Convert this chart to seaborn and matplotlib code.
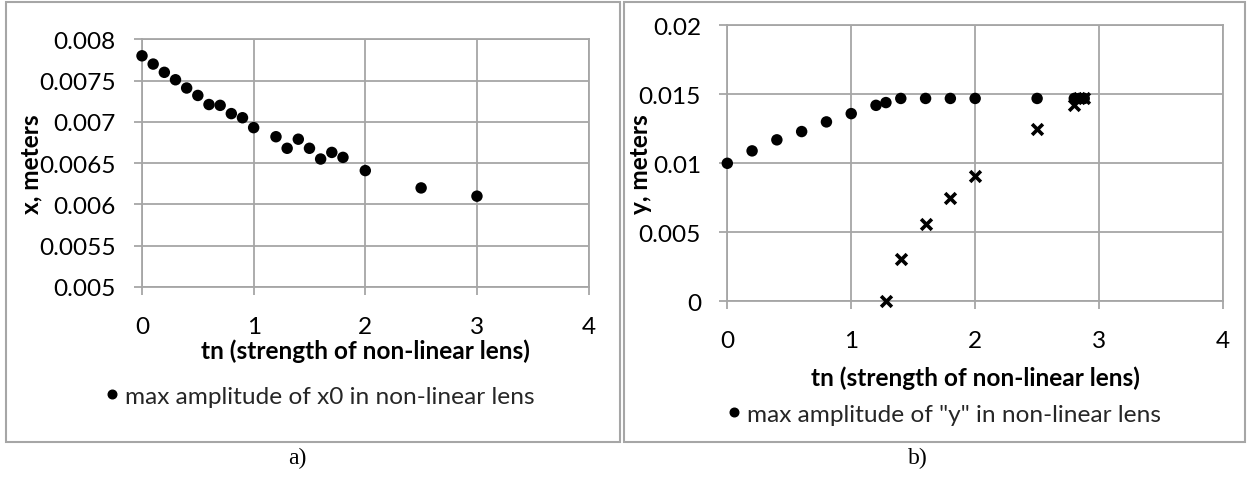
import numpy as np
import pandas as pd
import matplotlib
matplotlib.use("Agg")
import matplotlib.pyplot as plt
import seaborn as sns
from matplotlib.lines import Line2D
from matplotlib.patches import Rectangle

# ---------------- data ----------------
# panel a
tn_a = [0, 0.1, 0.2, 0.3, 0.4, 0.5, 0.6, 0.7, 0.8, 0.9, 1.0,
        1.2, 1.3, 1.4, 1.5, 1.6, 1.7, 1.8, 2.0, 2.5, 3.0]
x0_amp = [0.00780, 0.00770, 0.00760, 0.00751, 0.00741, 0.00732, 0.00721,
          0.00720, 0.00710, 0.00705, 0.00693, 0.00682, 0.00668, 0.00679,
          0.00668, 0.00655, 0.00663, 0.00657, 0.00641, 0.00620, 0.00610]
# panel b
tn_b = [0, 0.2, 0.4, 0.6, 0.8, 1.0, 1.2, 1.28, 1.4, 1.6, 1.8, 2.0, 2.5,
        2.8, 2.84, 2.88]
y_amp = [0.0100, 0.0109, 0.0117, 0.0123, 0.0130, 0.0136, 0.0142, 0.0144,
         0.0147, 0.0147, 0.0147, 0.0147, 0.0147, 0.0147, 0.0147, 0.0147]
tn_c = [1.28, 1.4, 1.6, 1.8, 2.0, 2.5, 2.8, 2.84, 2.88]
y_cross = [0.0, 0.0031, 0.0056, 0.0075, 0.0091, 0.0125, 0.0142, 0.0147, 0.0147]

xticks = [0, 1, 2, 3, 4]
xtick_labels = ["0", "1", "2", "3", "4"]
yticks_a = [0.005, 0.0055, 0.006, 0.0065, 0.007, 0.0075, 0.008]
ytick_labels_a = ["0.005", "0.0055", "0.006", "0.0065", "0.007", "0.0075", "0.008"]
yticks_b = [0, 0.005, 0.01, 0.015, 0.02]
ytick_labels_b = ["0", "0.005", "0.01", "0.015", "0.02"]

xlabel_txt = "tn (strength of non-linear lens)"
ylabel_a = "x, meters"
ylabel_b = "y, meters"
legend_a = "max amplitude of x0 in non-linear lens"
legend_b = 'max amplitude of "y" in non-linear lens'

df_a = pd.DataFrame({"tn": tn_a, "amp": x0_amp})
df_b = pd.DataFrame({"tn": tn_b, "amp": y_amp})
df_c = pd.DataFrame({"tn": tn_c, "amp": y_cross})

# ---------------- style ----------------
sns.set_theme(style="white")
plt.rcParams["font.family"] = ["Lato", "DejaVu Sans"]
FS = 17.6
GRID = "#a6a6a6"

W, H = 1253, 481
fig = plt.figure(figsize=(W / 100, H / 100), dpi=100)
fig.patch.set_facecolor("white")


def px_axes(x0, y0, x1, y1):
    return fig.add_axes([x0 / W, 1 - y1 / H, (x1 - x0) / W, (y1 - y0) / H])


ax_a = px_axes(142, 40.3, 588.6, 288)
ax_b = px_axes(727.3, 26.3, 1223, 302.3)

# panel boxes
for (bx0, by0, bx1, by1) in [(6, 3, 620, 443), (624, 3, 1245, 443)]:
    fig.patches.append(Rectangle((bx0 / W, 1 - by1 / H), (bx1 - bx0) / W,
                                 (by1 - by0) / H, transform=fig.transFigure,
                                 fill=False, edgecolor=GRID, linewidth=1.5))

sns.scatterplot(data=df_a, x="tn", y="amp", ax=ax_a, color="black", s=68,
                marker="o", edgecolor="none", legend=False, clip_on=False, zorder=3)
sns.scatterplot(data=df_b, x="tn", y="amp", ax=ax_b, color="black", s=68,
                marker="o", edgecolor="none", legend=False, clip_on=False, zorder=3)
sns.scatterplot(data=df_c, x="tn", y="amp", ax=ax_b, color="black", s=60,
                marker="x", linewidth=2.6, legend=False, clip_on=False, zorder=3)


def style(ax, yticks, ylabels, ylim, ylab, ylab_x, xlab_y):
    ax.set_xlim(0, 4)
    ax.set_ylim(*ylim)
    ax.set_xticks(xticks)
    ax.set_xticklabels(xtick_labels)
    ax.set_yticks(yticks)
    ax.set_yticklabels(ylabels)
    ax.grid(True, color=GRID, linewidth=1.3)
    ax.set_axisbelow(True)
    for sp in ax.spines.values():
        sp.set_visible(True)
        sp.set_color(GRID)
        sp.set_linewidth(1.3)
    ax.tick_params(axis="x", length=6, width=1.3, color=GRID, pad=15,
                   labelsize=FS, labelcolor="black", bottom=True)
    ax.tick_params(axis="y", length=6, width=1.3, color=GRID, pad=13,
                   labelsize=FS, labelcolor="black", left=True)
    ax.set_xlabel(xlabel_txt, fontsize=FS, fontweight="bold", color="black")
    ax.set_ylabel(ylab, fontsize=FS, fontweight="bold", color="black")
    ax.xaxis.set_label_coords(0.5, xlab_y)
    ax.xaxis.label.set_va("center")
    ax.yaxis.set_label_coords(ylab_x, 0.5)
    ax.yaxis.label.set_va("center")


style(ax_a, yticks_a, ytick_labels_a, (0.005, 0.008), ylabel_a,
      (30.6 - 142) / 446.6, (288 - 351.7) / 247.7)
style(ax_b, yticks_b, ytick_labels_b, (0, 0.02), ylabel_b,
      (641 - 727.3) / 495.7, (302.3 - 378.3) / 276)

# legends
for ax, lab, (lx, ly) in [(ax_a, legend_a, (104.8, 397)), (ax_b, legend_b, (727, 415))]:
    h = Line2D([], [], marker="o", linestyle="none", color="black",
               markersize=6.2)
    fig.legend(handles=[h], labels=[lab], loc="center left",
               bbox_to_anchor=(lx / W, 1 - ly / H), frameon=False,
               fontsize=FS, handlelength=0.55, handletextpad=0.26,
               borderpad=0, borderaxespad=0)

# captions
fig.text(297 / W, 1 - 458 / H, "a)", fontsize=17, family="Liberation Serif",
         ha="center", va="center", color="black")
fig.text(918 / W, 1 - 458 / H, "b)", fontsize=17, family="Liberation Serif",
         ha="center", va="center", color="black")

fig.savefig("out.png", dpi=100, facecolor="white")
